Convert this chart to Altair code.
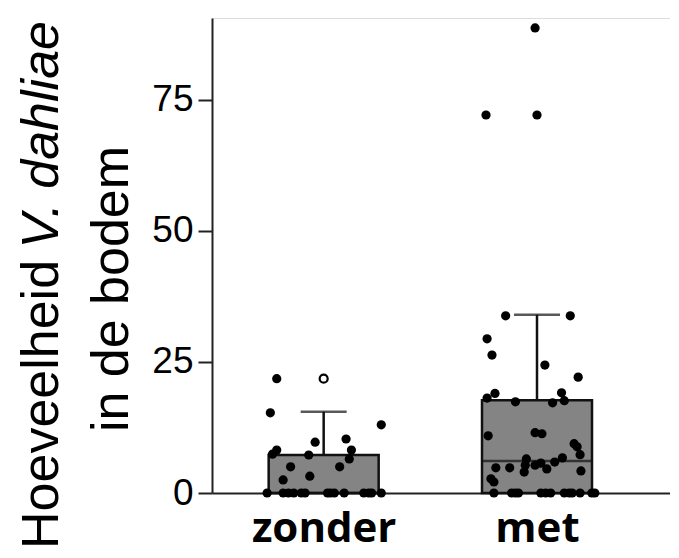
import altair as alt
import pandas as pd

# ---------------- data ----------------
categories = ["zonder", "met"]
cat_pos = [1, 2]
bar_mean = [7.25, 17.7]
bar_err_upper = [15.5, 34.0]
bar_median = [0.0, 6.1]

zonder_values = [21.8, 15.3, 13.0, 9.7, 10.3, 8.2, 6.5, 8.2, 7.4, 7.25, 5.0, 5.0, 2.5, 3.2,
                 0, 0, 0, 0, 0, 0, 0, 0, 0, 0, 0, 0, 0, 0]
zonder_jitter = [-0.22, -0.25, 0.27, -0.04, 0.105, 0.13, 0.12, -0.22, -0.24, -0.07, -0.155, 0.075, -0.19, -0.065,
                 -0.265, -0.19, -0.165, -0.14, -0.105, -0.087, 0.018, 0.032, 0.05, 0.096, 0.188, 0.211, 0.225, 0.27]

met_values = [88.7, 72.1, 72.1, 33.8, 33.8, 29.4, 26.3, 24.4, 22.1, 19.0, 18.1, 17.4, 17.2, 19.1, 17.6,
              10.9, 11.5, 11.3, 9.4, 8.8, 7.3, 6.5, 6.7, 5.9, 5.7, 5.3, 5.3, 4.8, 4.8, 4.0, 4.6, 4.2, 2.7, 2.1,
              0, 0, 0, 0, 0, 0, 0, 0, 0, 0, 0, 0, 0]
met_jitter = [-0.009, -0.239, 0.0, -0.147, 0.156, -0.234, -0.211, 0.037, 0.193, -0.197, -0.234, -0.101, 0.073, 0.115, 0.128,
              -0.229, -0.009, 0.023, 0.174, 0.188, 0.202, -0.05, 0.119, 0.083, 0.018, -0.009, -0.055, -0.193, -0.128, -0.06, 0.046, 0.206, -0.216, -0.202,
              -0.202, -0.119, -0.101, -0.087, 0.018, 0.041, 0.064, 0.128, 0.151, 0.165, 0.202, 0.257, 0.271]

open_values = [21.8]
open_jitter = [0.0]
open_group_pos = [1]

y_ticks = [0, 25, 50, 75]
y_max = 90.6
x_domain = [0.5, 2.6]

title_line1 = ["Hoeveelheid", "V. dahliae"]
title_line2 = ["in de bodem"]

# ---------------- tables ----------------
summary = pd.DataFrame({
    "group": categories, "pos": cat_pos, "mean": bar_mean,
    "upper": bar_err_upper, "median": bar_median,
})
points = pd.DataFrame({
    "pos": [cat_pos[0] + j for j in zonder_jitter] + [cat_pos[1] + j for j in met_jitter],
    "value": zonder_values + met_values,
})
open_pts = pd.DataFrame({
    "pos": [p + j for p, j in zip(open_group_pos, open_jitter)],
    "value": open_values,
})

label_expr = " : ".join(
    f"datum.value == {p} ? '{c}'" for p, c in zip(cat_pos[:-1], categories[:-1])
) + f" : '{categories[-1]}'"

x_axis = alt.Axis(
    values=cat_pos, labelExpr=label_expr, title=None, ticks=False, tickSize=0,
    labelFont="Open Sans", labelFontWeight="bold", labelFontSize=42, labelColor="#000",
    labelBaseline="alphabetic", labelPadding=48, domainColor="#222", domainWidth=2,
    grid=False, labelFlush=False,
)
y_axis = alt.Axis(
    values=y_ticks, title=None, tickSize=14, tickWidth=2, tickColor="#222",
    labelFont="Liberation Sans", labelFontSize=37, labelColor="#000", labelPadding=5,
    domainColor="#222", domainWidth=2, grid=False,
)

x_scale = alt.Scale(domain=x_domain, nice=False, zero=False)
y_scale = alt.Scale(domain=[0, y_max], nice=False)

def X(field):
    return alt.X(field, type="quantitative", scale=x_scale, axis=x_axis)

def Y(field):
    return alt.Y(field, type="quantitative", scale=y_scale, axis=y_axis)

bars = alt.Chart(summary).mark_bar(
    size=110, orient="vertical", color="#848484", stroke="#111", strokeWidth=2.5
).encode(x=X("pos"), y=Y("mean"))

medians = alt.Chart(summary).mark_tick(
    size=110, thickness=2.5, orient="horizontal", color="#111"
).encode(x=X("pos"), y=Y("median"))

err_line = alt.Chart(summary).mark_rule(color="#111", strokeWidth=2.5).encode(
    x=X("pos"), y=Y("mean"), y2="upper"
)
err_cap = alt.Chart(summary).mark_tick(
    size=46, thickness=2.5, orient="horizontal", color="#111"
).encode(x=X("pos"), y=Y("upper"))

dots = alt.Chart(points).mark_point(
    filled=True, size=85, color="#000", opacity=1
).encode(x=X("pos"), y=Y("value"))

open_dots = alt.Chart(open_pts).mark_point(
    filled=False, size=64, color="#000", fill="white", fillOpacity=1, strokeWidth=2.2, opacity=1
).encode(x=X("pos"), y=Y("value"))

t1 = alt.Chart(pd.DataFrame({"t": [title_line1[0]]})).mark_text(
    angle=270, align="left", baseline="alphabetic", font="Liberation Sans",
    fontSize=52, color="#000"
).encode(text="t:N", x=alt.value(-154), y=alt.value(531))

t2 = alt.Chart(pd.DataFrame({"t": [title_line1[1]]})).mark_text(
    angle=270, align="right", baseline="alphabetic", font="Liberation Sans",
    fontSize=52, fontStyle="italic", color="#000"
).encode(text="t:N", x=alt.value(-154), y=alt.value(3))

t3 = alt.Chart(pd.DataFrame({"t": title_line2})).mark_text(
    angle=270, align="center", baseline="alphabetic", font="Liberation Sans",
    fontSize=52, color="#000"
).encode(text="t:N", x=alt.value(-84), y=alt.value(271))

chart = alt.layer(bars, medians, err_line, err_cap, dots, open_dots, t1, t2, t3).properties(
    width=458, height=475,
    autosize=alt.AutoSizeParams(type="none"),
    padding={"left": 204, "top": 10, "right": 0, "bottom": 62},
).configure_view(stroke=None).configure(background="white")

chart.save("out.html", embed_options={"renderer": "svg", "actions": False})
